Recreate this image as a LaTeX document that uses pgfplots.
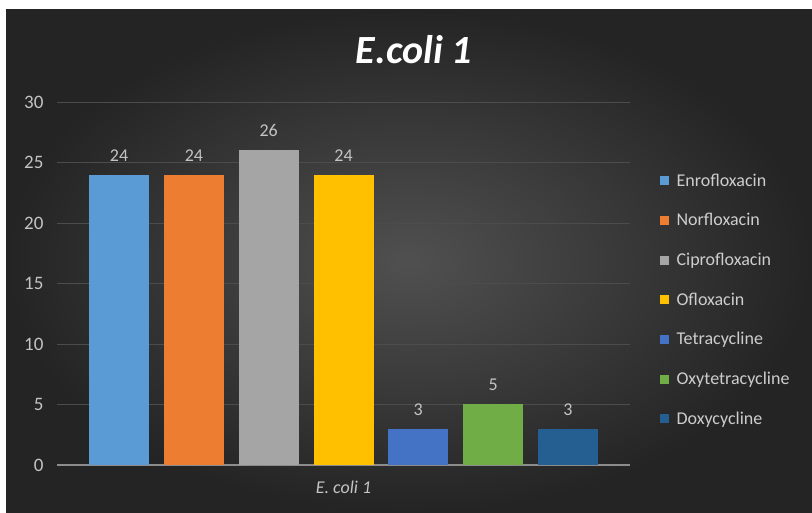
\documentclass[border=0pt]{standalone}
\usepackage{pgfplots}
\pgfplotsset{compat=1.18}
\usepackage{fontspec}
\setmainfont{Carlito}
\definecolor{cEnro}{HTML}{5B9BD5}
\definecolor{cNor}{HTML}{ED7D31}
\definecolor{cCip}{HTML}{A5A5A5}
\definecolor{cOfl}{HTML}{FFC000}
\definecolor{cTet}{HTML}{4472C4}
\definecolor{cOxy}{HTML}{70AD47}
\definecolor{cDox}{HTML}{255E91}
\definecolor{bgin}{HTML}{505050}
\definecolor{bgout}{HTML}{242424}
\definecolor{gridc}{HTML}{4C4C4C}
\definecolor{axisc}{HTML}{8C8C8C}
\definecolor{tickc}{HTML}{C4C4C4}
\definecolor{legc}{HTML}{CDCDCD}
\begin{document}
\begin{tikzpicture}[x=1pt,y=1pt]
\useasboundingbox (0,0) rectangle (812,513);
\fill[white] (0,0) rectangle (812,513);
\shade[inner color=bgin, outer color=bgout] (6,0) rectangle (812,503);
\node[text=white, font=\fontsize{40}{40}\selectfont\bfseries\itshape, anchor=base] at (414,449) {E.coli 1};
\begin{axis}[
  at={(57pt,48pt)}, anchor=south west,
  scale only axis, width=573pt, height=363pt,
  ybar=14.8pt, bar width=60pt,
  xmin=-1, xmax=1, ymin=0, ymax=30,
  xtick={0}, xticklabels={\textit{E. coli 1}},
  ytick={5,10,...,30},
  extra y ticks={0},
  extra y tick style={grid style={color=axisc, line width=1.6pt}},
  ymajorgrids, grid style={color=gridc, line width=0.8pt},
  axis line style={draw=none},
  major tick length=0pt,
  /pgf/number format/assume math mode=true,
  tick label style={text=tickc, font=\fontsize{19}{19}\selectfont},
  yticklabel style={xshift=-10pt},
  xticklabel style={yshift=-12pt, font=\fontsize{18}{18}\selectfont},
  nodes near coords,
  every node near coord/.append style={text=tickc, font=\fontsize{18}{18}\selectfont, yshift=10pt},
  legend style={at={(1.046,0.455)}, anchor=west, draw=none, fill=none,
    text=legc, font=\fontsize{18}{18}\selectfont, row sep=21.7pt},
  legend cell align=left,
  lg/.style={legend image code/.code={\fill[##1] (0pt,-4.5pt) rectangle (9pt,4.5pt); \path (15pt,0pt);}},
]
\addplot[fill=cEnro, draw=none, lg] coordinates {(0,24)};
\addplot[fill=cNor, draw=none, lg] coordinates {(0,24)};
\addplot[fill=cCip, draw=none, lg] coordinates {(0,26)};
\addplot[fill=cOfl, draw=none, lg] coordinates {(0,24)};
\addplot[fill=cTet, draw=none, lg] coordinates {(0,3)};
\addplot[fill=cOxy, draw=none, lg] coordinates {(0,5)};
\addplot[fill=cDox, draw=none, lg] coordinates {(0,3)};
\legend{Enrofloxacin,Norfloxacin,Ciprofloxacin,Ofloxacin,Tetracycline,Oxytetracycline,Doxycycline}
\end{axis}
\end{tikzpicture}
\end{document}
